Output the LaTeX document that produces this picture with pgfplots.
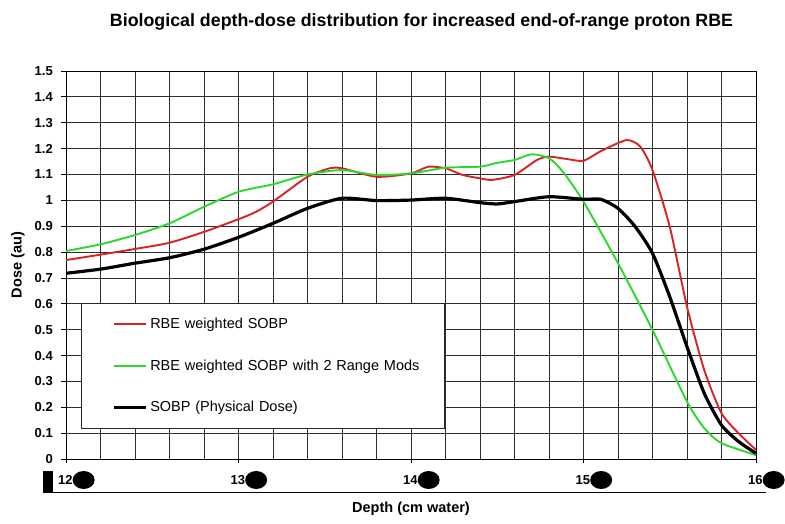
\documentclass[border=0pt]{standalone}
\usepackage{fontspec}
\setmainfont{Liberation Sans}
\usepackage{pgfplots}
\usepackage{pgfplotstable}
\pgfplotsset{compat=1.18}
\definecolor{cred}{RGB}{215,35,35}
\definecolor{cgreen}{RGB}{45,215,45}
\definecolor{cgrid}{RGB}{45,45,45}
\newcommand\blob{\tikz[baseline={(0pt,-4.5pt)}]\fill[black] (0,0) ellipse (11pt and 9pt);}

\pgfplotstableread{
x y
12.0 0.769
12.2 0.790
12.4 0.812
12.6 0.836
12.8 0.878
13.0 0.927
13.1 0.955
13.2 0.995
13.4 1.091
13.53 1.124
13.6 1.124
13.8 1.091
14.0 1.104
14.1 1.130
14.2 1.124
14.3 1.098
14.4 1.085
14.47 1.079
14.6 1.098
14.73 1.156
14.8 1.169
14.9 1.160
15.0 1.153
15.1 1.190
15.25 1.233
15.33 1.207
15.4 1.117
15.5 0.898
15.6 0.589
15.7 0.344
15.8 0.177
15.9 0.099
16.0 0.035
}\redtab

\pgfplotstableread{
x y
12.0 0.804
12.2 0.830
12.4 0.866
12.6 0.911
12.8 0.975
13.0 1.033
13.2 1.062
13.4 1.100
13.6 1.117
13.8 1.098
14.0 1.104
14.2 1.126
14.4 1.130
14.5 1.145
14.6 1.156
14.7 1.178
14.8 1.163
14.88 1.111
15.0 0.995
15.2 0.757
15.4 0.499
15.6 0.222
15.7 0.119
15.8 0.061
16.0 0.015
}\greentab

\pgfplotstableread{
x y
12.0 0.718
12.2 0.734
12.4 0.757
12.6 0.778
12.8 0.811
13.0 0.857
13.2 0.911
13.4 0.969
13.6 1.008
13.8 0.999
14.0 1.001
14.2 1.008
14.4 0.991
14.5 0.986
14.6 0.995
14.8 1.014
15.0 1.004
15.1 1.004
15.2 0.969
15.3 0.898
15.4 0.795
15.5 0.627
15.6 0.434
15.7 0.254
15.8 0.131
15.9 0.067
16.0 0.022
}\blacktab

\begin{document}
\begin{tikzpicture}
\useasboundingbox (-66pt,-65pt) rectangle (719pt,459pt);
\begin{axis}[
  width=690pt, height=388pt, scale only axis,
  anchor=south west, at={(0pt,0pt)},
  xmin=12, xmax=16, ymin=0, ymax=1.5,
  xtick={12,13,14,15,16},
  xticklabels={12\blob,13\blob,14\blob,15\blob,16\blob},
  minor xtick={12.2,12.4,12.6,12.8,13.2,13.4,13.6,13.8,14.2,14.4,14.6,14.8,15.2,15.4,15.6,15.8},
  ytick={0,0.1,0.2,0.3,0.4,0.5,0.6,0.7,0.8,0.9,1,1.1,1.2,1.3,1.4,1.5},
  yticklabels={0,0.1,0.2,0.3,0.4,0.5,0.6,0.7,0.8,0.9,1,1.1,1.2,1.3,1.4,1.5},
  grid=both,
  major grid style={cgrid, line width=0.8pt},
  minor grid style={cgrid, line width=0.8pt},
  axis line style={black, line width=0.9pt},
  tick style={black, line width=0.8pt},
  tick align=outside, tick pos=left,
  major tick length=4.5pt, minor tick length=0pt,
  /pgf/number format/assume math mode=true,
  xticklabel style={font=\bfseries\fontsize{13}{15}\selectfont, anchor=west, inner sep=0pt, xshift=-8pt, yshift=-16.5pt},
  yticklabel style={font=\bfseries\fontsize{13}{15}\selectfont, anchor=east, inner sep=0pt, xshift=-8.5pt},
  xlabel={Depth (cm water)},
  xlabel style={font=\bfseries\fontsize{14.5}{16}\selectfont, at={(axis description cs:0.5,0)}, anchor=center, yshift=-50pt},
  ylabel={Dose (au)},
  ylabel style={font=\bfseries\fontsize{14.5}{16}\selectfont, at={(axis description cs:0,0.5)}, anchor=center, yshift=48pt},
  title={Biological depth-dose distribution for increased end-of-range proton RBE},
  title style={font=\bfseries\fontsize{17.8}{19}\selectfont, at={(axis description cs:0.5,1)}, anchor=base, xshift=10.5pt, yshift=38.3pt},
  legend style={at={(axis cs:12.087,0.603)}, anchor=north west, draw=black!85, line width=1.3pt, fill=white,
    inner xsep=0pt, inner ysep=0pt, row sep=0pt,
    font=\fontsize{14.5}{16}\selectfont,
    cells={anchor=west},
    nodes={inner sep=3pt, text width=291pt, minimum height=41.5pt, align=left}},
  legend image code/.code={\path[draw=none,fill=none] (0pt,-1pt) rectangle (64pt,1pt); \draw[#1] (32pt,0pt) -- (64pt,0pt);},
]
\addplot[cred, line width=1.9pt, smooth, tension=0.4] table[x=x,y=y] {\redtab};
\addlegendentry{RBE weighted SOBP}
\addplot[cgreen, line width=1.9pt, smooth, tension=0.4] table[x=x,y=y] {\greentab};
\addlegendentry{RBE weighted SOBP with 2 Range Mods}
\addplot[black, line width=3.2pt, smooth, tension=0.4] table[x=x,y=y] {\blacktab};
\addlegendentry{SOBP (Physical Dose)}
\end{axis}
\fill[black] (-23pt,-12pt) rectangle (-13pt,-33pt);
\draw[black, line width=0.9pt] (-23pt,-33pt) -- (700pt,-33pt);
\end{tikzpicture}
\end{document}
